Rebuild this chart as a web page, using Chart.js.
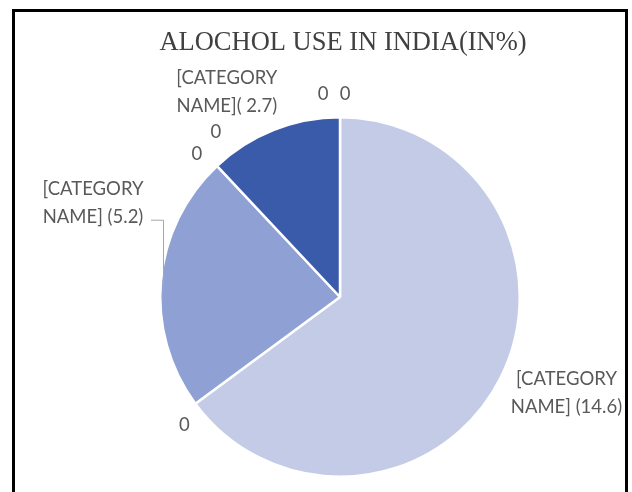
<!DOCTYPE html>
<html>
<head>
<meta charset="utf-8">
<script src="https://cdn.jsdelivr.net/npm/chart.js@4"></script>
<style>
  html, body { margin: 0; padding: 0; background: #fff; }
  #wrap { position: relative; width: 632px; height: 492px; overflow: hidden; }
  #frame { position: absolute; left: 12px; top: 9px; width: 610px; height: 600px;
           border: 3px solid #000; box-sizing: content-box; }
  canvas { position: absolute; left: 0; top: 0; }
</style>
</head>
<body>
<div id="wrap">
  <div id="frame"></div>
  <canvas id="c" width="632" height="492"></canvas>
</div>
<script>
// ---- data ----
const titleText = 'ALOCHOL USE IN INDIA(IN%)';
const categories = ['[CATEGORY NAME]', '', '[CATEGORY NAME]', '', '', '[CATEGORY NAME]', '', ''];
const values = [14.6, 0, 5.2, 0, 0, 2.7, 0, 0];
const valueText = ['(14.6)', '0', '(5.2)', '0', '0', '( 2.7)', '0', '0'];

// ---- styling / layout ----
const sliceColors = ['#C4CBE6', '#8FA0D4', '#8FA0D4', '#3A5BAA', '#3A5BAA', '#3A5BAA', '#C4CBE6', '#C4CBE6'];
// label offsets (px) from the arc's outer midpoint
const labelOffsets = [[66, 15], [-11, 21], [-68, -78], [-20, -12], [-1, -34], [-47, -38], [-17, -23], [5, -23]];

function labelLines(i) {
  if (values[i] === 0) return ['0'];
  const parts = categories[i].split(' ');
  const sep = i === 5 ? '' : ' ';
  return [parts[0], parts[1] + sep + valueText[i]];
}

const overlay = {
  id: 'overlay',
  afterDraw(chart) {
    const ctx = chart.ctx;
    ctx.save();
    // title
    ctx.fillStyle = '#404040';
    ctx.font = '26.5px "Liberation Serif", "Times New Roman", serif';
    ctx.textAlign = 'center';
    ctx.textBaseline = 'middle';
    ctx.fillText(titleText, 343, 43);

    const meta = chart.getDatasetMeta(0);
    ctx.font = '18.5px Lato, "Noto Sans", sans-serif';
    ctx.fillStyle = '#595959';
    meta.data.forEach((arc, i) => {
      const p = arc.getProps(['x', 'y', 'startAngle', 'endAngle', 'outerRadius'], true);
      const mid = (p.startAngle + p.endAngle) / 2;
      const ax = p.x + Math.cos(mid) * p.outerRadius;
      const ay = p.y + Math.sin(mid) * p.outerRadius;
      const lx = ax + labelOffsets[i][0];
      const ly = ay + labelOffsets[i][1];
      const lines = labelLines(i);
      const lh = 28;
      lines.forEach((t, k) => {
        ctx.fillText(t, lx, ly + (k - (lines.length - 1) / 2) * lh);
      });
      if (i === 2) {
        // leader line
        ctx.strokeStyle = '#A6A6A6';
        ctx.lineWidth = 1;
        ctx.beginPath();
        ctx.moveTo(lx + 58, ly + 17.5);
        ctx.lineTo(lx + 70.5, ly + 17.5);
        ctx.lineTo(lx + 70.5, ly + 88);
        ctx.stroke();
      }
    });
    ctx.restore();
  }
};

new Chart(document.getElementById('c'), {
  type: 'pie',
  data: {
    labels: categories,
    datasets: [{
      data: values,
      backgroundColor: sliceColors,
      borderColor: '#ffffff',
      borderWidth: 2.5
    }]
  },
  options: {
    responsive: false,
    animation: false,
    layout: { padding: { left: 159, right: 111, top: 116, bottom: 14 } },
    plugins: { legend: { display: false }, title: { display: false }, tooltip: { enabled: false } }
  },
  plugins: [overlay]
});
</script>
</body>
</html>
